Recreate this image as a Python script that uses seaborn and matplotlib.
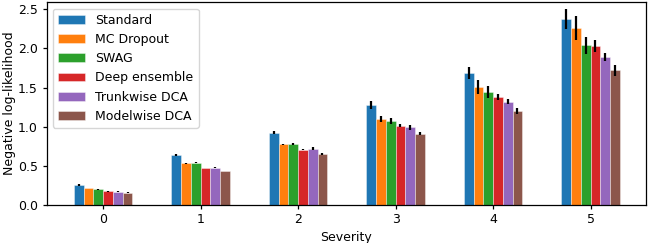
import matplotlib
matplotlib.use("Agg")
import matplotlib.pyplot as plt
import seaborn as sns
import pandas as pd
import numpy as np

severities = ["0", "1", "2", "3", "4", "5"]
methods = ["Standard", "MC Dropout", "SWAG", "Deep ensemble", "Trunkwise DCA", "Modelwise DCA"]

standard = [0.25, 0.632, 0.92, 1.273, 1.68, 2.38]
mc_dropout = [0.213, 0.53, 0.77, 1.10, 1.51, 2.26]
swag = [0.197, 0.535, 0.773, 1.07, 1.44, 2.04]
deep_ensemble = [0.171, 0.47, 0.705, 1.01, 1.38, 2.03]
trunkwise = [0.167, 0.475, 0.714, 0.99, 1.32, 1.89]
modelwise = [0.154, 0.43, 0.65, 0.906, 1.20, 1.72]

standard_err = [0.008, 0.01, 0.02, 0.05, 0.077, 0.13]
mc_dropout_err = [0.005, 0.005, 0.01, 0.04, 0.09, 0.15]
swag_err = [0.005, 0.005, 0.01, 0.04, 0.08, 0.11]
deep_ensemble_err = [0.004, 0.005, 0.008, 0.02, 0.04, 0.077]
trunkwise_err = [0.004, 0.01, 0.02, 0.03, 0.03, 0.05]
modelwise_err = [0.004, 0.005, 0.01, 0.02, 0.036, 0.07]

values = [standard, mc_dropout, swag, deep_ensemble, trunkwise, modelwise]
errors = [standard_err, mc_dropout_err, swag_err, deep_ensemble_err, trunkwise_err, modelwise_err]

rows = []
for m, vals, errs in zip(methods, values, errors):
    for s, v, e in zip(severities, vals, errs):
        rows.append({"Severity": s, "Method": m, "NLL": v, "err": e})
df = pd.DataFrame(rows)

plt.rcParams["font.family"] = ["DejaVu Sans"]
plt.rcParams.update({
    "font.size": 9,
    "xtick.major.size": 3.2,
    "ytick.major.size": 3.2,
    "xtick.major.pad": 3.2,
    "ytick.major.pad": 3.2,
    "axes.linewidth": 0.9,
    "xtick.major.width": 0.9,
    "ytick.major.width": 0.9,
})

fig, ax = plt.subplots(figsize=(6.48, 2.43), dpi=100)
sns.barplot(data=df, x="Severity", y="NLL", hue="Method", order=severities,
            hue_order=methods, palette="tab10", saturation=1, errorbar=None,
            width=0.6, edgecolor=(1, 1, 1, 0.45), linewidth=0.6, ax=ax)

for i, m in enumerate(methods):
    sub = df[df["Method"] == m].set_index("Severity").loc[severities]
    bars = ax.containers[i]
    xs = [b.get_x() + b.get_width() / 2 for b in bars]
    ax.errorbar(xs, sub["NLL"].values, yerr=sub["err"].values, fmt="none",
                ecolor="black", elinewidth=1.6, capsize=0, zorder=5)

ax.set_xlabel("Severity", fontsize=9, labelpad=3.5)
ax.set_ylabel("Negative log-likelihood", fontsize=9, labelpad=1.5)
ax.tick_params(labelsize=9)
ax.set_yticks([0.0, 0.5, 1.0, 1.5, 2.0, 2.5])
ax.set_xlim(-0.58, 5.57)
ax.set_ylim(0, 2.59)
leg = ax.legend(loc="upper left", fontsize=9, frameon=True, handlelength=2.2)
leg.set_title(None)

fig.subplots_adjust(left=0.072, right=0.997, top=0.99, bottom=0.158)
fig.savefig("out.png", dpi=100)
